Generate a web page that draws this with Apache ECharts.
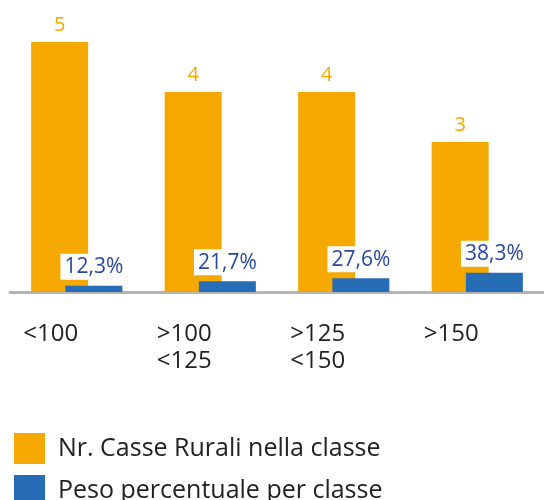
<!DOCTYPE html>
<html>
<head>
<meta charset="utf-8">
<script src="https://cdn.jsdelivr.net/npm/echarts@6/dist/echarts.min.js"></script>
<style>
  html, body { margin: 0; padding: 0; background: #fff; }
  #chart { width: 544px; height: 500px; }
</style>
</head>
<body>
<div id="chart"></div>
<script>
// classi di dimensione
var categorie = ['<100', '>100\n<125', '>125\n<150', '>150'];
var nrCasse = [5, 4, 4, 3];
// peso percentuale (frazione, stessa scala delle barre)
var pesoPerc = [0.123, 0.217, 0.276, 0.383];

var font = 'Open Sans';

var myChart = echarts.init(document.getElementById('chart'));
myChart.setOption({
  animation: false,
  textStyle: { fontFamily: font },
  grid: { left: 10, right: -5, top: 42, bottom: 208 },
  legend: {
    orient: 'vertical',
    left: 9,
    top: 428,
    height: 90,
    icon: 'rect',
    itemWidth: 31,
    itemHeight: 31,
    itemGap: 11,
    textStyle: { fontSize: 25, color: '#222', fontFamily: font, padding: [0, 0, 4, 8] },
    data: ['Nr. Casse Rurali nella classe', 'Peso percentuale per classe']
  },
  xAxis: {
    type: 'category',
    data: categorie,
    axisLine: { lineStyle: { color: '#b4b4b4', width: 3 } },
    axisTick: { show: false },
    axisLabel: {
      fontSize: 24,
      color: '#222',
      lineHeight: 27,
      margin: 29,
      padding: [0, 52, 0, 0]
    }
  },
  yAxis: {
    type: 'value',
    min: 0,
    max: 5,
    show: false
  },
  series: [
    {
      name: 'Nr. Casse Rurali nella classe',
      type: 'bar',
      data: nrCasse,
      barWidth: 57,
      barGap: '-40%',
      itemStyle: { color: '#F5A800' },
      label: {
        show: true,
        position: 'top',
        distance: 7,
        fontSize: 20,
        color: '#F5A800'
      }
    },
    {
      name: 'Peso percentuale per classe',
      type: 'bar',
      data: pesoPerc,
      barWidth: 57,
      itemStyle: { color: '#276DB5' },
      label: {
        show: true,
        position: 'top',
        distance: 6,
        fontSize: 21,
        color: '#2748A0',
        backgroundColor: '#fff',
        padding: [3, 4, 2, 4],
        formatter: function (p) {
          return (p.value * 100).toFixed(1).replace('.', ',') + '%';
        }
      }
    }
  ]
});
</script>
</body>
</html>
